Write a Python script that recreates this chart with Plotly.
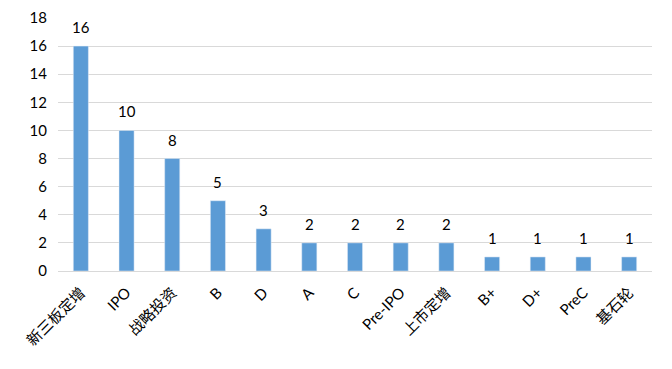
import plotly.graph_objects as go

categories = ["新三板定增", "IPO", "战略投资", "B", "D", "A", "C", "Pre-IPO", "上市定增", "B+", "D+", "PreC", "基石轮"]
values = [16, 10, 8, 5, 3, 2, 2, 2, 2, 1, 1, 1, 1]
y_ticks = [0, 2, 4, 6, 8, 10, 12, 14, 16, 18]

fig = go.Figure(go.Bar(
    x=categories, y=values,
    marker_color="#5B9BD5",
    cliponaxis=False,
))
for c, v in zip(categories, values):
    fig.add_annotation(x=c, y=v, text=str(v), showarrow=False, yanchor="bottom", yshift=8,
                       font=dict(family="Lato", size=15, color="#000000"))
fig.update_layout(
    width=664, height=361,
    margin=dict(l=50, r=20, t=10, b=98),
    paper_bgcolor="white", plot_bgcolor="white",
    bargap=0.67,
    showlegend=False,
    font=dict(family="Lato, Noto Sans CJK SC", size=14, color="#000000"),
)
fig.update_yaxes(
    range=[0, 18], tickvals=y_ticks, showgrid=True, gridcolor="#D9D9D9", gridwidth=1,
    zeroline=False, showline=False, ticks="", ticklabelstandoff=10, automargin=False,
    tickfont=dict(family="Lato", size=15, color="#000000"),
)
fig.update_xaxes(
    tickangle=-45, showline=True, linecolor="#D9D9D9", linewidth=1, ticks="", automargin=False,
    ticklabelstandoff=6,
    tickfont=dict(family="Lato, Noto Sans CJK SC", size=15, color="#000000"),
)
fig.write_html("out.html")
